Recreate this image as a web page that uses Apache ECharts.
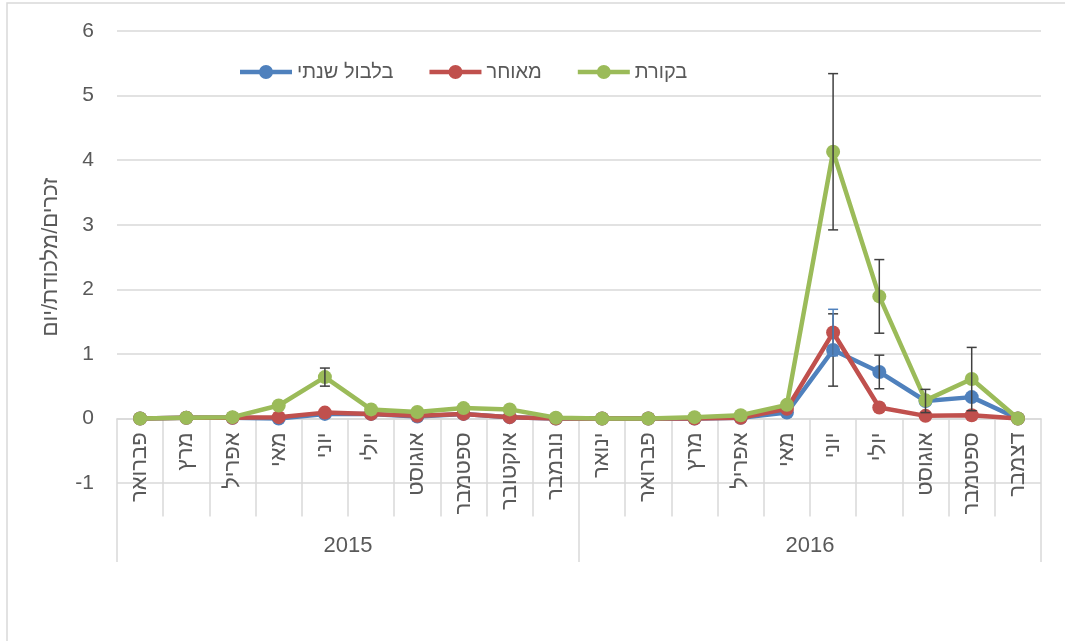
<!DOCTYPE html>
<html>
<head>
<meta charset="utf-8">
<script src="https://cdn.jsdelivr.net/npm/echarts@6/dist/echarts.min.js"></script>
<style>
  html, body { margin: 0; padding: 0; background: #fff; }
  #chart { width: 1065px; height: 641px; }
</style>
</head>
<body>
<div id="chart"></div>
<script>
// קטגוריות
const months = ['פברואר', 'מרץ', 'אפריל', 'מאי', 'יוני', 'יולי', 'אוגוסט', 'ספטמבר', 'אוקטובר', 'נובמבר',
                'ינואר', 'פברואר', 'מרץ', 'אפריל', 'מאי', 'יוני', 'יולי', 'אוגוסט', 'ספטמבר', 'דצמבר'];
const years = ['2015', '2016'];
const yTicks = { min: -1, max: 6, interval: 1 };

// ערכים
const blueName = 'בלבול שנתי';
const redName = 'מאוחר';
const greenName = 'בקורת';
const blueVals = [0, 0.01, 0.01, 0, 0.07, 0.07, 0.03, 0.07, 0.02, 0, 0, 0, 0, 0.01, 0.09, 1.06, 0.72, 0.27, 0.33, 0];
const redVals = [0, 0.01, 0.01, 0.02, 0.09, 0.07, 0.04, 0.07, 0.02, 0, 0, 0, 0, 0.01, 0.15, 1.33, 0.17, 0.04, 0.05, 0];
const greenVals = [0, 0.01, 0.02, 0.2, 0.64, 0.14, 0.1, 0.16, 0.14, 0.01, 0, 0, 0.02, 0.05, 0.21, 4.13, 1.89, 0.28, 0.61, 0];

// סטיית תקן
const blueErr = [null, null, null, null, null, null, null, null, null, null, null, null, null, null, null, 0.56, 0.26, 0.18, null, null];
const redErr = [null, null, null, null, null, null, null, null, null, null, null, null, null, null, null, 0.36, null, null, null, null];
const greenErr = [null, null, null, null, 0.14, null, null, null, null, null, null, null, null, null, null, 1.21, 0.57, null, 0.49, null];

const font = '"Liberation Sans", "DejaVu Sans", sans-serif';
const textColor = '#595959';
const gridColor = '#d9d9d9';

// grid
const gridTop = 31, gridBottom = 158, gridLeft = 117, gridRight = 24;
const gridH = 641 - gridTop - gridBottom;
const zeroOffset = -(0 - yTicks.min) / (yTicks.max - yTicks.min) * gridH;

// אייקון מקרא: קו עבה עם עיגול
const legendIcon = 'path://M0,4.75 H52 V9.25 H0 Z M19,7 A7,7 0 1,1 33,7 A7,7 0 1,1 19,7 Z';

function errData(vals, errs) {
    const out = [];
    errs.forEach(function (e, i) {
        if (e != null) out.push([i, vals[i] - e, vals[i] + e]);
    });
    return out;
}

function errSeries(vals, errs, color) {
    return {
        type: 'custom',
        xAxisIndex: 0,
        yAxisIndex: 0,
        z: 5,
        silent: true,
        data: errData(vals, errs),
        renderItem: function (params, api) {
            const x = api.value(0);
            const lo = api.coord([x, api.value(1)]);
            const hi = api.coord([x, api.value(2)]);
            const w = 5;
            const style = { stroke: color, lineWidth: 1.5 };
            return {
                type: 'group',
                children: [
                    { type: 'line', shape: { x1: hi[0], y1: hi[1], x2: lo[0], y2: lo[1] }, style: style },
                    { type: 'line', shape: { x1: hi[0] - w, y1: hi[1], x2: hi[0] + w, y2: hi[1] }, style: style },
                    { type: 'line', shape: { x1: lo[0] - w, y1: lo[1], x2: lo[0] + w, y2: lo[1] }, style: style }
                ]
            };
        }
    };
}

function lineSeries(name, vals, color, z) {
    return {
        name: name,
        type: 'line',
        xAxisIndex: 0,
        data: vals,
        z: z,
        symbol: 'circle',
        symbolSize: 14,
        lineStyle: { width: 4.5, color: color },
        itemStyle: { color: color }
    };
}

const chart = echarts.init(document.getElementById('chart'));
chart.setOption({
    animation: false,
    textStyle: { fontFamily: font },
    graphic: [{
        type: 'rect',
        shape: { x: 7, y: 3, width: 1200, height: 800 },
        style: { fill: 'none', stroke: gridColor, lineWidth: 1.5 },
        silent: true
    }],
    legend: {
        left: 235,
        top: 57,
        icon: legendIcon,
        itemWidth: 52,
        itemHeight: 14,
        itemGap: 36,
        data: [blueName, redName, greenName],
        textStyle: { fontSize: 20, color: textColor, fontFamily: font }
    },
    grid: { left: gridLeft, right: gridRight, top: gridTop, bottom: gridBottom },
    xAxis: [
        {
            type: 'category',
            data: months,
            boundaryGap: true,
            offset: zeroOffset,
            axisLine: { show: true, onZero: false, lineStyle: { color: gridColor, width: 1.5 } },
            axisTick: { show: true, interval: 0, length: 98, lineStyle: { color: gridColor, width: 1.5 } },
            axisLabel: {
                interval: 0, rotate: 90, margin: 14,
                fontSize: 22, color: textColor, fontFamily: font
            }
        },
        {
            type: 'category',
            data: years,
            position: 'bottom',
            boundaryGap: true,
            axisLine: { show: false, onZero: false },
            axisTick: { show: true, interval: 0, length: 79, lineStyle: { color: gridColor, width: 1.5 } },
            axisLabel: { margin: 52, fontSize: 22, color: textColor, fontFamily: font }
        }
    ],
    yAxis: {
        type: 'value',
        min: yTicks.min,
        max: yTicks.max,
        interval: yTicks.interval,
        name: 'זכרים/מלכודת/יום',
        nameLocation: 'middle',
        nameGap: 55,
        nameTextStyle: { fontSize: 22, color: textColor, fontFamily: font },
        axisLine: { show: false },
        axisTick: { show: false },
        axisLabel: { margin: 23, fontSize: 21, color: textColor, fontFamily: font },
        splitLine: { lineStyle: { color: gridColor, width: 1.5 } }
    },
    series: [
        lineSeries(blueName, blueVals, '#4f81bd', 2),
        lineSeries(redName, redVals, '#c0504d', 3),
        lineSeries(greenName, greenVals, '#9bbb59', 4),
        errSeries(blueVals, blueErr, '#404040'),
        errSeries(redVals, redErr, '#4f81bd'),
        errSeries(greenVals, greenErr, '#404040')
    ]
});
</script>
</body>
</html>
